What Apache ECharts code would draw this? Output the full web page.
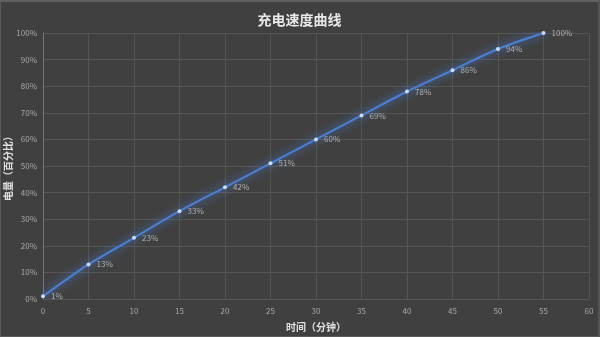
<!DOCTYPE html>
<html><head><meta charset="utf-8">
<style>html,body{margin:0;padding:0;background:#404040;}#c{width:600px;height:337px;box-sizing:border-box;border:1px solid #5a5a5a;border-top:2px solid #5f5f5f;border-right:2px solid #555;}</style>
<script src="https://cdn.jsdelivr.net/npm/echarts@6/dist/echarts.min.js"></script>
</head><body><div id="c"></div>
<script>
const minutes = [0,5,10,15,20,25,30,35,40,45,50,55];
const battery = [1,13,23,33,42,51,60,69,78,86,94,100];
const xTicks = {min:0,max:60,interval:5};
const yTicks = {min:0,max:100,interval:10};
const chart = echarts.init(document.getElementById('c'));
const font = '"Noto Sans CJK SC", "Noto Sans", sans-serif';
chart.setOption({
  backgroundColor:'#404040',
  animation:false,
  title:{text:'充电速度曲线',left:'center',top:6,textStyle:{color:'#e8e8e8',fontSize:14,fontWeight:'bold',fontFamily:font}},
  grid:{left:42,right:9,top:31,bottom:37,containLabel:false,outerBoundsMode:'none'},
  xAxis:{type:'value',min:xTicks.min,max:xTicks.max,interval:xTicks.interval,
    name:'时间（分钟）',nameLocation:'middle',nameGap:23,nameMoveOverlap:false,
    nameTextStyle:{color:'#e0e0e0',fontSize:10,fontWeight:'bold',fontFamily:font},
    axisLine:{show:false},axisTick:{show:false},
    axisLabel:{color:'#a8a8a8',fontSize:8,margin:8,fontFamily:font},
    splitLine:{lineStyle:{color:'#555555',width:1}}},
  yAxis:{type:'value',min:yTicks.min,max:yTicks.max,interval:yTicks.interval,
    name:'电量（百分比）',nameLocation:'middle',nameGap:30,nameMoveOverlap:false,
    nameTextStyle:{color:'#e0e0e0',fontSize:10,fontWeight:'bold',fontFamily:font},
    axisLine:{show:true,lineStyle:{color:'#777777'}},axisTick:{show:false},
    axisLabel:{color:'#a8a8a8',fontSize:8,margin:6,formatter:'{value}%',fontFamily:font},
    splitLine:{lineStyle:{color:'#555555',width:1}}},
  series:[{type:'line',smooth:0.3,
    data:minutes.map((m,i)=>[m,battery[i]]),
    symbol:'circle',symbolSize:4,
    itemStyle:{color:'#c8dcff',borderColor:'#4a80d4',borderWidth:0},
    lineStyle:{color:'#4a80d4',width:2,shadowColor:'rgba(80,140,255,1)',shadowBlur:8},
    label:{show:true,position:'right',distance:6,color:'#b0b0b0',fontSize:8,formatter:p=>p.value[1]+'%',fontFamily:font}
  }]
});
</script></body></html>
